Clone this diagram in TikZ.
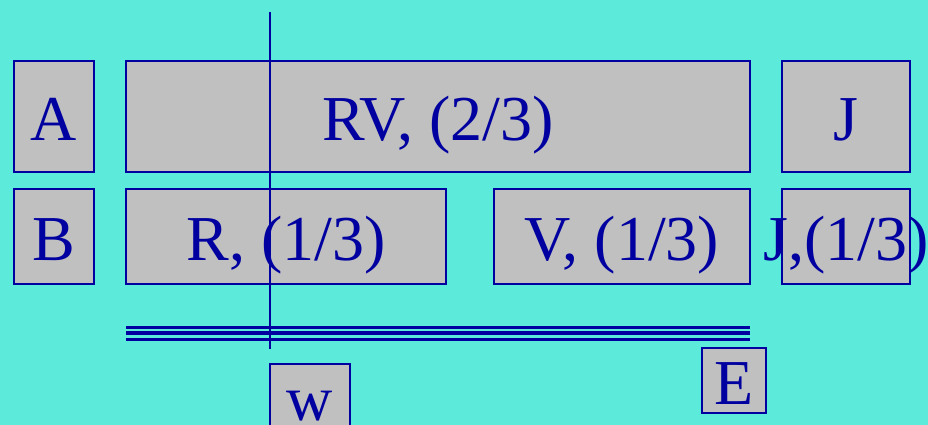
\documentclass[tikz,border=0pt]{standalone}
\usepackage{fontspec}
\setmainfont{Liberation Serif}
\usepackage{tikz}
\usetikzlibrary{positioning,calc}
\definecolor{Sea}{HTML}{5CEBDB}
\definecolor{Slot}{HTML}{C0C0C0}
\definecolor{Ink}{HTML}{0000A0}
\begin{document}
\begin{tikzpicture}[
  x=1pt,y=-1pt,
  every node/.style={font=\fontsize{64}{70}\selectfont,text=Ink,inner sep=0pt,text height=47pt,text depth=0pt},
  slot/.style={draw=Ink,fill=Slot,line width=2pt},
  rule/.style={draw=Ink,line width=#1}
]
\useasboundingbox[fill=Sea] (0,0) rectangle (928,425);
% first row
\node[slot,minimum width=80pt,minimum height=111pt] (A) at (54,116.5) {A};
\node[slot,minimum width=624pt,minimum height=111pt] (RV) at (438,116.5) {RV, (2/3)};
\node[slot,minimum width=128pt,minimum height=111pt] (J) at (846,116.5) {J};
% second row
\node[slot,minimum width=80pt,minimum height=95pt] (B) at (54,236.5) {B};
\node[slot,minimum width=320pt,minimum height=95pt] (R) at (286,236.5) {R, (1/3)};
\node[slot,minimum width=256pt,minimum height=95pt] (V) at (622,236.5) {V, (1/3)};
\node[slot,minimum width=128pt,minimum height=95pt] (J2) at (846,236.5) {};
\node (J2t) at (J2) {J,(1/3)};
% bottom
\node[slot,minimum width=80pt,minimum height=65pt] (w) at (310,396.5) {w};
\node[slot,minimum width=64pt,minimum height=65pt] (E) at (734,380.5) {E};
\coordinate (railL) at (126,333);
\coordinate (railR) at (750,333);
\draw[rule=3pt] ($(railL)+(0,-6)$) -- ($(railR)+(0,-6)$);
\draw[rule=4.7pt] (railL) -- (railR);
\draw[rule=3pt] ($(railL)+(0,6)$) -- ($(railR)+(0,6)$);
\coordinate (cutT) at (270,12);
\coordinate (cutB) at (270,349);
\draw[rule=2pt] (cutT) -- (cutB);
\end{tikzpicture}
\end{document}
